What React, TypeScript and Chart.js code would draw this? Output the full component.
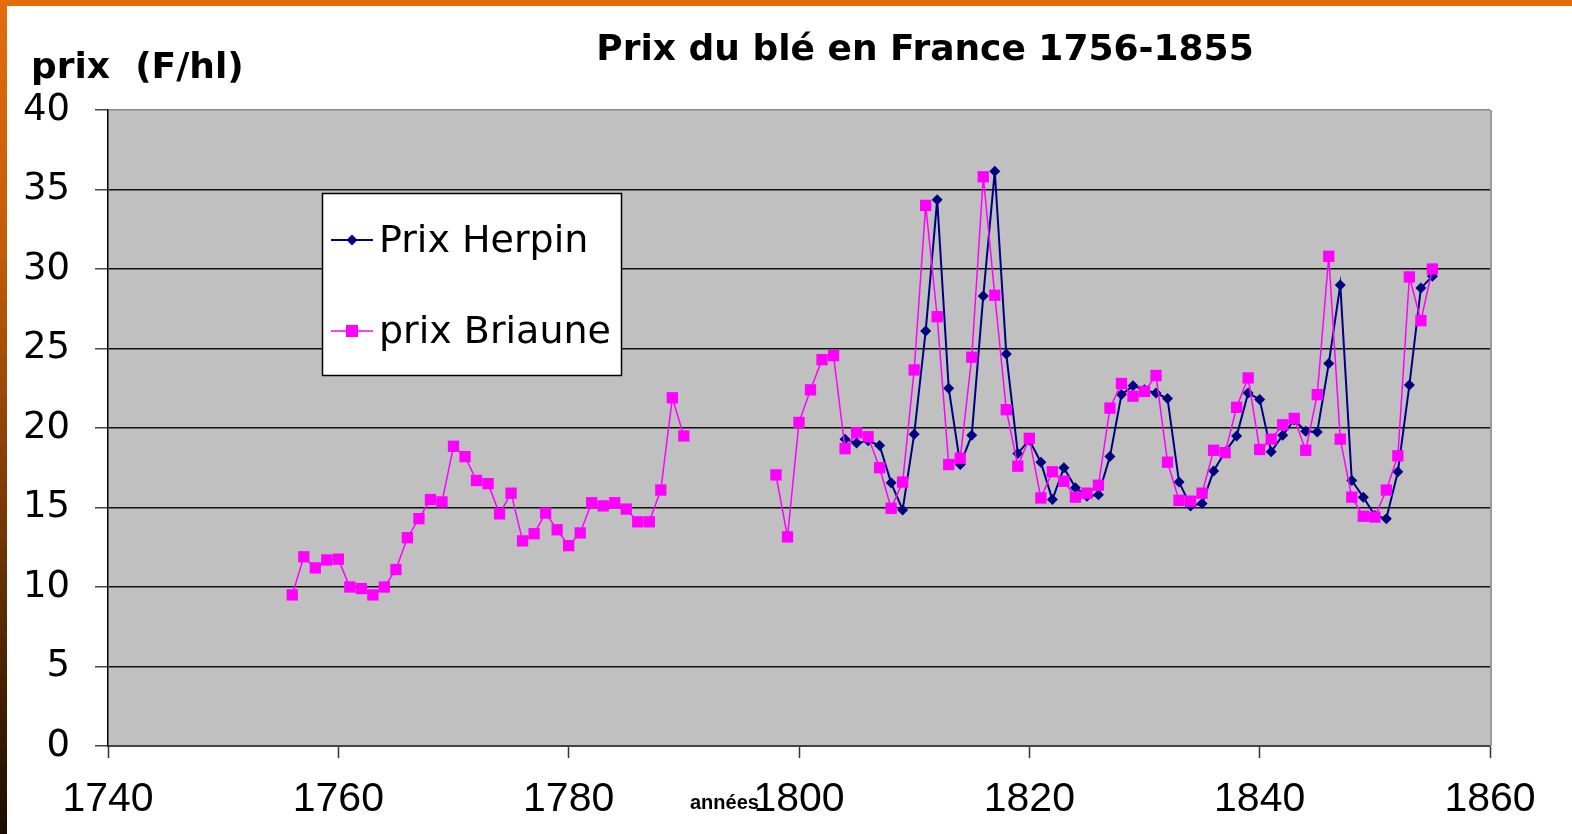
import React, { useEffect, useRef } from "react";
import { Chart, registerables } from "chart.js";

Chart.register(...registerables);

const yearsBriaune = [
  1756, 1757, 1758, 1759, 1760, 1761, 1762, 1763, 1764, 1765,
  1766, 1767, 1768, 1769, 1770, 1771, 1772, 1773, 1774, 1775,
  1776, 1777, 1778, 1779, 1780, 1781, 1782, 1783, 1784, 1785,
  1786, 1787, 1788, 1789, 1790, 1791, 1792, 1793, 1794, 1795,
  1796, 1797, 1798, 1799, 1800, 1801, 1802, 1803, 1804, 1805,
  1806, 1807, 1808, 1809, 1810, 1811, 1812, 1813, 1814, 1815,
  1816, 1817, 1818, 1819, 1820, 1821, 1822, 1823, 1824, 1825,
  1826, 1827, 1828, 1829, 1830, 1831, 1832, 1833, 1834, 1835,
  1836, 1837, 1838, 1839, 1840, 1841, 1842, 1843, 1844, 1845,
  1846, 1847, 1848, 1849, 1850, 1851, 1852, 1853, 1854, 1855,
];

const prixBriaune: (number | null)[] = [
  9.5, 11.9, 11.2, 11.7, 11.75, 10.0, 9.9, 9.5, 10.0, 11.1,
  13.1, 14.3, 15.5, 15.35, 18.85, 18.2, 16.7, 16.5, 14.6, 15.9,
  12.9, 13.35, 14.65, 13.6, 12.6, 13.4, 15.3, 15.1, 15.3, 14.9,
  14.1, 14.1, 16.1, 21.9, 19.5, null, null, null, null, null,
  null, null, 17.05, 13.15, 20.35, 22.4, 24.3, 24.55, 18.7, 19.7,
  19.45, 17.5, 14.95, 16.6, 23.65, 34.0, 27.0, 17.7, 18.1, 24.45,
  35.8, 28.35, 21.15, 17.6, 19.35, 15.6, 17.25, 16.65, 15.65, 15.9,
  16.4, 21.25, 22.8, 22.0, 22.3, 23.3, 17.85, 15.45, 15.4, 15.9,
  18.6, 18.45, 21.3, 23.15, 18.65, 19.3, 20.2, 20.6, 18.6, 22.1,
  30.8, 19.3, 15.65, 14.45, 14.4, 16.1, 18.25, 29.5, 26.75, 30.0,
];

const yearsHerpin = [
  1804, 1805, 1806, 1807, 1808, 1809, 1810, 1811, 1812, 1813,
  1814, 1815, 1816, 1817, 1818, 1819, 1820, 1821, 1822, 1823,
  1824, 1825, 1826, 1827, 1828, 1829, 1830, 1831, 1832, 1833,
  1834, 1835, 1836, 1837, 1838, 1839, 1840, 1841, 1842, 1843,
  1844, 1845, 1846, 1847, 1848, 1849, 1850, 1851, 1852, 1853,
  1854, 1855,
];

const prixHerpin = [
  19.3, 19.05, 19.2, 18.9, 16.55, 14.85, 19.6, 26.1, 34.35, 22.5,
  17.7, 19.55, 28.3, 36.15, 24.65, 18.4, 19.25, 17.85, 15.5, 17.5,
  16.25, 15.7, 15.8, 18.2, 22.1, 22.65, 22.4, 22.2, 21.85, 16.6,
  15.1, 15.25, 17.3, 18.5, 19.5, 22.2, 21.8, 18.5, 19.55, 20.5,
  19.8, 19.75, 24.05, 29.0, 16.7, 15.65, 14.5, 14.3, 17.25, 22.7,
  28.8, 29.55,
];

const xTickValues = [1740, 1760, 1780, 1800, 1820, 1840, 1860];
const yTickValues = [0, 5, 10, 15, 20, 25, 30, 35, 40];

const chartTitle = "Prix du blé en France 1756-1855";
const yAxisTitle = "prix  (F/hl)";
const xAxisTitle = "années";
const labelHerpin = "Prix Herpin";
const labelBriaune = "prix Briaune";

const COLOR_HERPIN = "#000080";
const COLOR_BRIAUNE = "#FF00FF";

const decorPlugin = {
  id: "decor",
  beforeDraw(chart: any) {
    const { ctx, chartArea: a } = chart;
    ctx.save();
    ctx.fillStyle = "#C0C0C0";
    ctx.fillRect(a.left, a.top, a.right - a.left, a.bottom - a.top);
    ctx.restore();
  },
  afterDraw(chart: any) {
    const { ctx, chartArea: a } = chart;
    ctx.save();
    // right border of plot area
    ctx.strokeStyle = "#999999";
    ctx.lineWidth = 2;
    ctx.beginPath();
    ctx.moveTo(a.right + 1, a.top);
    ctx.lineTo(a.right + 1, a.bottom);
    ctx.stroke();

    // Titles
    ctx.fillStyle = "#000";
    ctx.textBaseline = "alphabetic";
    ctx.font = "bold 36px 'DejaVu Sans'";
    ctx.textAlign = "center";
    ctx.fillText(chartTitle, 925, 60);

    ctx.textAlign = "left";
    ctx.font = "bold 36px 'DejaVu Sans'";
    ctx.fillText(yAxisTitle, 31, 78);

    ctx.font = "bold 20px 'Liberation Sans'";
    ctx.fillText(xAxisTitle, 690, 809);

    // Legend box
    const bx = 322.5, by = 193.5, bw = 299, bh = 182;
    ctx.fillStyle = "#FFFFFF";
    ctx.fillRect(bx, by, bw, bh);
    ctx.strokeStyle = "#000";
    ctx.lineWidth = 1.5;
    ctx.strokeRect(bx, by, bw, bh);

    const rows = [
      { y: 240, label: labelHerpin, color: COLOR_HERPIN, shape: "diamond" },
      { y: 331, label: labelBriaune, color: COLOR_BRIAUNE, shape: "square" },
    ];
    rows.forEach((r) => {
      ctx.strokeStyle = r.color;
      ctx.lineWidth = r.shape === "diamond" ? 2 : 1.5;
      ctx.beginPath();
      ctx.moveTo(331, r.y);
      ctx.lineTo(373, r.y);
      ctx.stroke();
      ctx.fillStyle = r.color;
      ctx.beginPath();
      if (r.shape === "diamond") {
        ctx.moveTo(352, r.y - 5.5);
        ctx.lineTo(357.5, r.y);
        ctx.lineTo(352, r.y + 5.5);
        ctx.lineTo(346.5, r.y);
        ctx.closePath();
      } else {
        ctx.rect(346, r.y - 6, 12, 12);
      }
      ctx.fill();
      ctx.fillStyle = "#000";
      ctx.font = "38px 'DejaVu Sans'";
      ctx.textBaseline = "alphabetic";
      ctx.fillText(r.label, 379, r.y + 12);
    });
    ctx.restore();
  },
};

export default function App() {
  const canvasRef = useRef<HTMLCanvasElement | null>(null);

  useEffect(() => {
    const canvas = canvasRef.current;
    if (!canvas) return;

    const briauneData = yearsBriaune.map((yr, i) => ({ x: yr, y: prixBriaune[i] }));
    const herpinData = yearsHerpin.map((yr, i) => ({ x: yr, y: prixHerpin[i] }));

    const chart = new Chart(canvas, {
      type: "line",
      data: {
        datasets: [
          {
            label: labelBriaune,
            data: briauneData as any,
            borderColor: COLOR_BRIAUNE,
            backgroundColor: COLOR_BRIAUNE,
            borderWidth: 1.5,
            pointStyle: "rect",
            pointRadius: 8,
            pointBorderWidth: 0,
            pointBackgroundColor: COLOR_BRIAUNE,
            spanGaps: false,
            tension: 0,
          },
          {
            label: labelHerpin,
            data: herpinData as any,
            borderColor: COLOR_HERPIN,
            backgroundColor: COLOR_HERPIN,
            borderWidth: 2,
            pointStyle: "rectRot",
            pointRadius: 5.5,
            pointBorderWidth: 0,
            pointBackgroundColor: COLOR_HERPIN,
            tension: 0,
          },
        ],
      },
      options: {
        animation: false,
        responsive: false,
        maintainAspectRatio: false,
        devicePixelRatio: 1,
        layout: { padding: { top: 110, right: 82, bottom: 8, left: 0 } },
        plugins: {
          legend: { display: false },
          title: { display: false },
          tooltip: { enabled: false },
        },
        scales: {
          x: {
            type: "linear",
            min: 1740,
            max: 1860,
            afterBuildTicks: (scale: any) => {
              scale.ticks = xTickValues.map((v) => ({ value: v }));
            },
            afterFit: (scale: any) => {
              scale.height = 80;
            },
            grid: {
              drawOnChartArea: false,
              drawTicks: true,
              tickLength: 12,
              tickColor: "#333",
              tickWidth: 1.5,
            },
            border: { display: true, color: "#444", width: 2 },
            ticks: {
              autoSkip: false,
              maxRotation: 0,
              padding: 17,
              color: "#000",
              font: { family: "'Liberation Sans'", size: 41 },
              callback: (v: any) => String(v),
            },
          },
          y: {
            min: 0,
            max: 40,
            afterBuildTicks: (scale: any) => {
              scale.ticks = yTickValues.map((v) => ({ value: v }));
            },
            afterFit: (scale: any) => {
              scale.width = 108;
            },
            grid: {
              color: (c: any) => (c.tick && c.tick.value === 40 ? "#8a8a8a" : "#111"),
              lineWidth: 1.5,
              drawTicks: true,
              tickLength: 13,
              tickColor: "#444",
            },
            border: { display: true, color: "#000", width: 1.5 },
            ticks: {
              padding: 25,
              color: "#000",
              font: { family: "'DejaVu Sans'", size: 37 },
              callback: (v: any) => String(v),
            },
          },
        },
      },
      plugins: [decorPlugin],
    });

    return () => {
      chart.destroy();
    };
  }, []);

  return (
    <div
      style={{
        position: "fixed",
        left: 0,
        top: 0,
        width: 1572,
        height: 834,
        background: "#FFFFFF",
        overflow: "hidden",
      }}
    >
      <div
        style={{
          position: "absolute",
          left: 0,
          top: 0,
          width: 1572,
          height: 6,
          background: "#E46C0A",
        }}
      />
      <div
        style={{
          position: "absolute",
          left: 0,
          top: 0,
          width: 7,
          height: 834,
          background:
            "linear-gradient(to bottom, #E46C0A 0%, #C25C08 30%, #6E3504 65%, #1A0D00 100%)",
        }}
      />
      <canvas
        ref={canvasRef}
        width={1572}
        height={834}
        style={{ position: "absolute", left: 0, top: 0, width: 1572, height: 834 }}
      />
    </div>
  );
}
